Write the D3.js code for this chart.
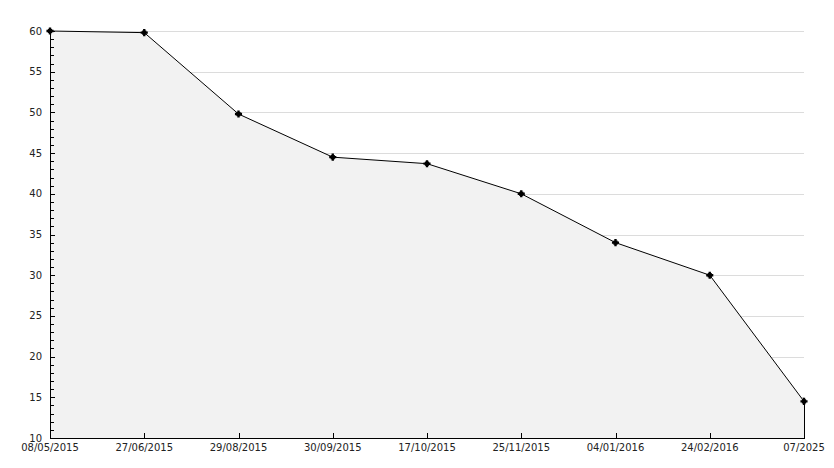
<!DOCTYPE html>
<html><head><meta charset="utf-8">
<script src="https://cdn.jsdelivr.net/npm/d3@7"></script>
<style>body{margin:0;background:#fff}svg{display:block}</style>
</head><body>
<svg id="c" width="834" height="468"></svg>
<script>
const categories = ["08/05/2015","27/06/2015","29/08/2015","30/09/2015","17/10/2015","25/11/2015","04/01/2016","24/02/2016","07/2025"];
const values = [60, 59.8, 49.8, 44.5, 43.7, 40, 34, 30, 14.5];
const yTicks = [10,15,20,25,30,35,40,45,50,55,60];

const svg = d3.select("#c");
const x = d3.scalePoint().domain(categories).range([50, 804]);
const y = d3.scaleLinear().domain([10, 60]).range([438, 31]);
const font = "DejaVu Sans, Verdana, sans-serif";

// gridlines
svg.append("g").selectAll("line").data(yTicks.slice(1)).join("line")
  .attr("x1", 50).attr("x2", 804)
  .attr("y1", d => Math.round(y(d)) + 0.5).attr("y2", d => Math.round(y(d)) + 0.5)
  .attr("stroke", "#dcdcdc").attr("stroke-width", 1);

const data = categories.map((c, i) => ({c, v: values[i]}));

// area
const area = d3.area().x(d => x(d.c)).y0(y(10)).y1(d => y(d.v));
svg.append("path").datum(data).attr("d", area).attr("fill", "#f2f2f2");

// line
const line = d3.line().x(d => x(d.c)).y(d => y(d.v));
svg.append("path").datum(data).attr("d", line).attr("fill", "none").attr("stroke", "#000").attr("stroke-width", 1);
// right edge
svg.append("line").attr("x1", x(categories[categories.length-1]) + 0.5).attr("x2", x(categories[categories.length-1]) + 0.5)
  .attr("y1", y(values[values.length-1])).attr("y2", y(10)).attr("stroke", "#000");

// y axis
const yMinor = d3.range(10, 61, 1);
const gy = svg.append("g");
gy.selectAll("line.minor").data(yMinor).join("line")
  .attr("x1", 50).attr("x2", d => d % 5 === 0 ? 55 : 54)
  .attr("y1", d => Math.round(y(d)) + 0.5).attr("y2", d => Math.round(y(d)) + 0.5)
  .attr("stroke", "#000");
gy.append("line").attr("x1", 50.5).attr("x2", 50.5).attr("y1", y(60)).attr("y2", y(10) + 1).attr("stroke", "#000");
gy.selectAll("text").data(yTicks).join("text")
  .attr("x", 42).attr("y", d => y(d)).attr("dy", "0.35em")
  .attr("text-anchor", "end").attr("font-family", font).attr("font-size", 10).attr("fill", "#222")
  .text(d => d);

// x axis
const gx = svg.append("g");
gx.append("line").attr("x1", 50).attr("x2", 805).attr("y1", 438.5).attr("y2", 438.5).attr("stroke", "#000");
gx.selectAll("line.t").data(categories).join("line")
  .attr("x1", d => Math.round(x(d)) + 0.5).attr("x2", d => Math.round(x(d)) + 0.5)
  .attr("y1", 433).attr("y2", 438).attr("stroke", "#000");
gx.selectAll("text").data(categories).join("text")
  .attr("x", d => x(d)).attr("y", 451)
  .attr("text-anchor", "middle").attr("font-family", font).attr("font-size", 10).attr("fill", "#222")
  .text(d => d);

// markers
svg.append("g").selectAll("path").data(data).join("path")
  .attr("transform", d => `translate(${x(d.c)},${y(d.v)})`)
  .attr("d", d3.symbol().type(d3.symbolSquare).size(18))
  .attr("fill", "#000");
svg.append("g").selectAll("path").data(data).join("path")
  .attr("transform", d => `translate(${x(d.c)},${y(d.v)})`)
  .attr("d", d3.symbol().type(d3.symbolCross).size(28))
  .attr("fill", "#000");
</script>
</body></html>
